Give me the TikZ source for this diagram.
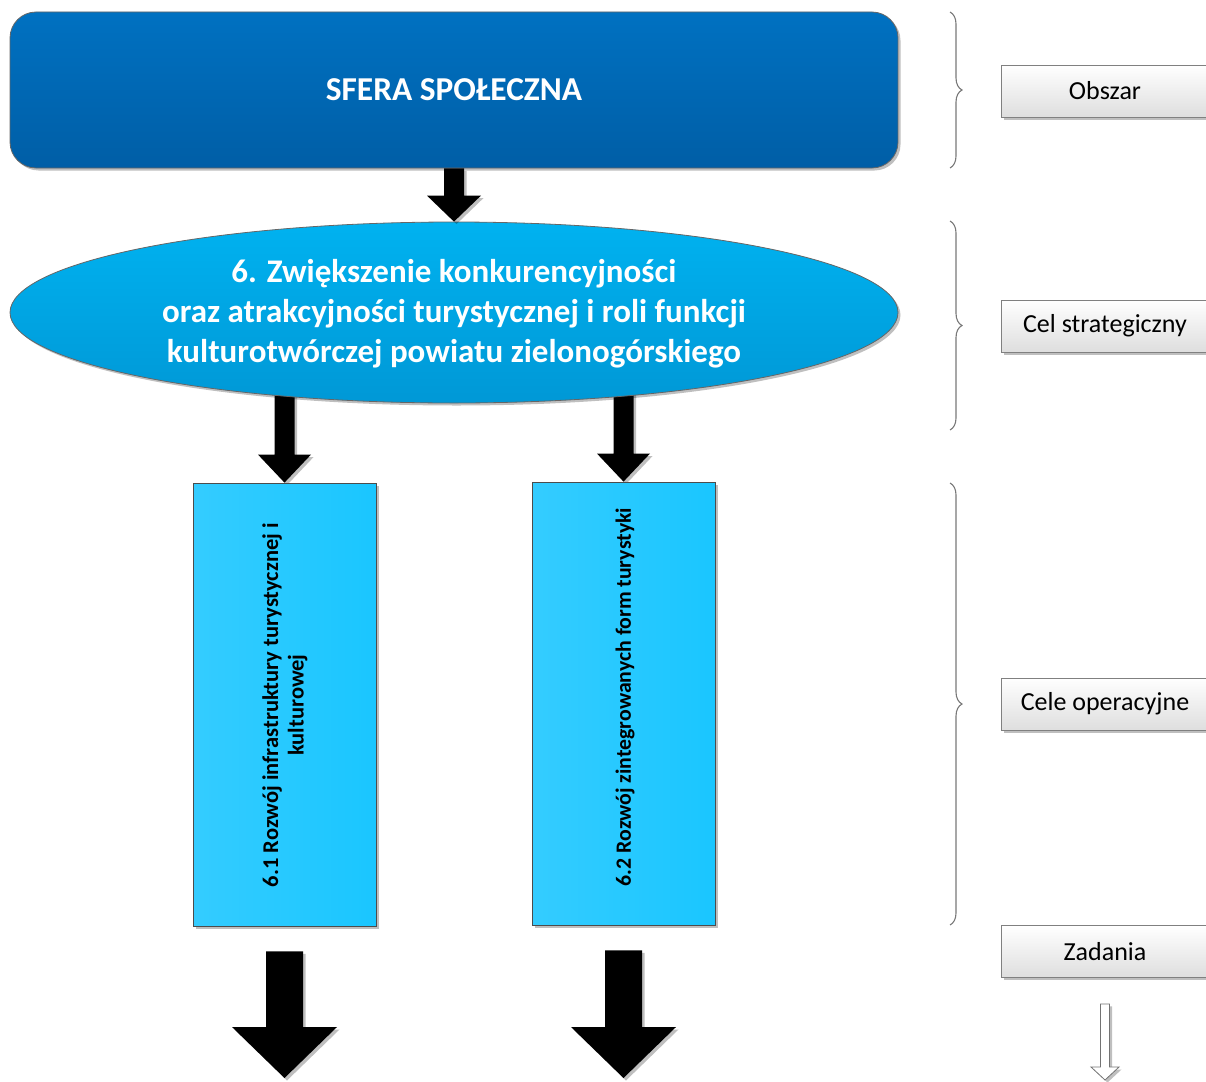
\documentclass[tikz,border=0pt]{standalone}
\usepackage{fontspec}
\setmainfont{Carlito}
\usetikzlibrary{calc,shapes.geometric,shadows,decorations.pathreplacing,backgrounds}
\definecolor{topA}{RGB}{0,113,193}
\definecolor{topB}{RGB}{0,94,166}
\definecolor{ellA}{RGB}{0,178,240}
\definecolor{ellB}{RGB}{0,152,214}
\definecolor{boxA}{RGB}{52,204,255}
\definecolor{boxB}{RGB}{26,198,255}
\definecolor{lblB}{RGB}{222,222,222}
\definecolor{braceC}{RGB}{120,120,120}
\tikzset{
  shad/.style={drop shadow={shadow xshift=2.5pt,shadow yshift=-2.5pt,opacity=0.25,fill=black}},
  areabox/.style={draw=black!60,line width=0.8pt,rounded corners=26pt,top color=topA,bottom color=topB,
     minimum width=888pt,minimum height=156pt,inner sep=0pt,shad,
     text=white,font=\bfseries\fontsize{33.4}{40}\selectfont},
  goalell/.style={ellipse,draw=black!60,line width=0.8pt,top color=ellA,bottom color=ellB,
     minimum width=888pt,minimum height=181pt,inner sep=0pt,shad},
  goaltext/.style={text=white,align=center,font=\bfseries\fontsize{33}{40}\selectfont,inner sep=0pt},
  opbox/.style={draw=black!70,line width=0.8pt,left color=boxA,right color=boxB,
     minimum width=183pt,minimum height=443pt,inner sep=0pt,shad},
  optext/.style={rotate=90,align=center,font=\bfseries\fontsize{22.5}{25.5}\selectfont,inner sep=0pt},
  lblbox/.style={draw=black!50,line width=0.8pt,top color=white,bottom color=lblB,
     minimum width=208pt,minimum height=52pt,inner sep=0pt,shad,
     font=\fontsize{26}{31}\selectfont},
  bracedeco/.style={draw=braceC,line width=1.1pt,decorate,decoration={brace,amplitude=12pt}},
  blackarrow/.style={fill=black,shad},
  openarrow/.style={fill=white,draw=black!55,line width=0.8pt,shad}
}
% #1 style, #2 from, #3 to (tip), #4 shaft half width, #5 head half width, #6 head length
\newcommand\blockarrow[6]{%
  \path[#1] let \p1=(#2), \p2=(#3) in
    (\x1-#4pt,\y1) -- (\x1+#4pt,\y1) -- (\x1+#4pt,\y2+#6pt) -- (\x1+#5pt,\y2+#6pt)
    -- (\x1,\y2) -- (\x1-#5pt,\y2+#6pt) -- (\x1-#4pt,\y2+#6pt) -- cycle;}
\begin{document}
\begin{tikzpicture}[x=1pt,y=-1pt]
\useasboundingbox (0,0) rectangle (1206,1081);
\clip (0,0) rectangle (1206,1081);

% main nodes
\node[areabox] (area) at (454,90) {SFERA SPOŁECZNA};
\node[goalell] (goal) at (454,312.5) {};
\node[goaltext] (goaltxt) at (454,314) {6. Zwiększenie konkurencyjności\\oraz atrakcyjności turystycznej i roli funkcji\\kulturotwórczej powiatu zielonogórskiego};
\node[opbox] (op1) at (284.5,704.5) {};
\node[optext] (op1txt) at (285,705) {6.1 Rozwój infrastruktury turystycznej i\\kulturowej};
\node[opbox] (op2) at (623.5,703.5) {};
\node[optext,font=\bfseries\fontsize{21.8}{27}\selectfont] (op2txt) at (625,697) {6.2 Rozwój zintegrowanych form turystyki};

% legend boxes
\node[lblbox] (lobsz) at (1105,91) {Obszar};
\node[lblbox] (lcel) at (1105,326) {Cel strategiczny};
\node[lblbox] (lops) at (1105,704) {Cele operacyjne};
\node[lblbox] (lzad) at (1105,951.5) {Zadania};

% free ends
\coordinate (end1) at (284.5,1078);
\coordinate (end2) at (623.5,1078);
\coordinate (endz) at (1105.5,1080);

% arrows
\blockarrow{blackarrow}{area.south}{goal.north}{10}{27}{26}
\begin{scope}[on background layer]
\blockarrow{blackarrow}{op1.north |- goal.center}{op1.north}{10}{26.5}{28}
\blockarrow{blackarrow}{op2.north |- goal.center}{op2.north}{10}{26.5}{28}
\end{scope}
\blockarrow{blackarrow}{[yshift=-25pt]op1.south}{end1}{18.5}{52.5}{51}
\blockarrow{blackarrow}{[yshift=-25pt]op2.south}{end2}{18.5}{52.5}{51}
\blockarrow{openarrow}{[yshift=-26pt]lzad.south}{endz}{4.5}{14}{13}

% braces
\draw[bracedeco] (950,12) -- (950,168);
\draw[bracedeco] (950,221) -- (950,430);
\draw[bracedeco] (950,483) -- (950,925);
\end{tikzpicture}
\end{document}
